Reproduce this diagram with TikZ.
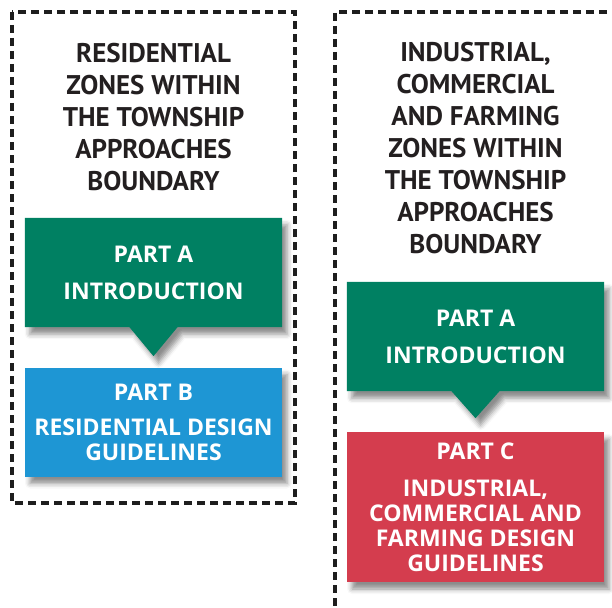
\documentclass[tikz,border=0pt]{standalone}
\usepackage{fontspec}
\setmainfont{PT Sans}
\newfontfamily\boxfont{Open Sans}
\usetikzlibrary{shadows.blur,calc}
\pgfdeclarelayer{bg}
\pgfsetlayers{bg,main}
\definecolor{partgreen}{RGB}{0,128,98}
\definecolor{partblue}{RGB}{30,150,212}
\definecolor{partred}{RGB}{212,61,78}
\definecolor{headgray}{RGB}{35,31,32}
\definecolor{framegray}{RGB}{30,30,30}
\begin{document}
\begin{tikzpicture}[x=1pt,y=-1pt,
  zone/.style={draw=framegray,line width=3.2pt,dash pattern=on 8pt off 5pt},
  heading/.style={font=\bfseries\fontsize{27}{32}\selectfont,text=headgray,align=center,inner sep=0pt,anchor=north},
  partbox/.style={minimum width=257pt,inner sep=0pt,text=white,align=center,font=\boxfont\bfseries\fontsize{23}{25}\selectfont},
  shade/.style={blur shadow={shadow xshift=5pt,shadow yshift=-7pt,shadow blur radius=5pt,shadow opacity=45}}]
\useasboundingbox (0,0) rectangle (612,607);
\clip (0,0) rectangle (612,607);
\draw[zone] (12,12) rectangle (295,503);
\draw[zone] (620,12) -- (335,12) -- (335,620);
\node[heading] (h1) at (153.5,43) {RESIDENTIAL\\ZONES WITHIN\\THE TOWNSHIP\\APPROACHES\\BOUNDARY};
\node[heading] (h2) at (475.5,42) {INDUSTRIAL,\\COMMERCIAL\\AND FARMING\\ZONES WITHIN\\THE TOWNSHIP\\APPROACHES\\BOUNDARY};
\node[partbox,minimum height=109pt] (a1) at (153.5,272.5) {PART A\\[12pt]INTRODUCTION};
\node[partbox,minimum height=109pt,fill=partblue,shade] (b) at (153.5,422) {PART B\\[10pt]RESIDENTIAL DESIGN\\GUIDELINES};
\node[partbox,minimum height=109pt] (a2) at (475.5,336.5) {PART A\\[12pt]INTRODUCTION};
\node[partbox,minimum height=150pt,fill=partred,shade] (c) at (475.5,507) {PART C\\[12pt]INDUSTRIAL,\\COMMERCIAL AND\\FARMING DESIGN\\GUIDELINES};
\begin{pgfonlayer}{bg}
\fill[partgreen,shade] (a1.north west) -- (a1.north east) -- (a1.south east) -- ($(a1.south)+(24,0)$) -- ($(a1.south)+(0,29)$) -- ($(a1.south)+(-24,0)$) -- (a1.south west) -- cycle;
\fill[partgreen,shade] (a2.north west) -- (a2.north east) -- (a2.south east) -- ($(a2.south)+(24,0)$) -- ($(a2.south)+(0,27)$) -- ($(a2.south)+(-24,0)$) -- (a2.south west) -- cycle;
\end{pgfonlayer}
\end{tikzpicture}
\end{document}
